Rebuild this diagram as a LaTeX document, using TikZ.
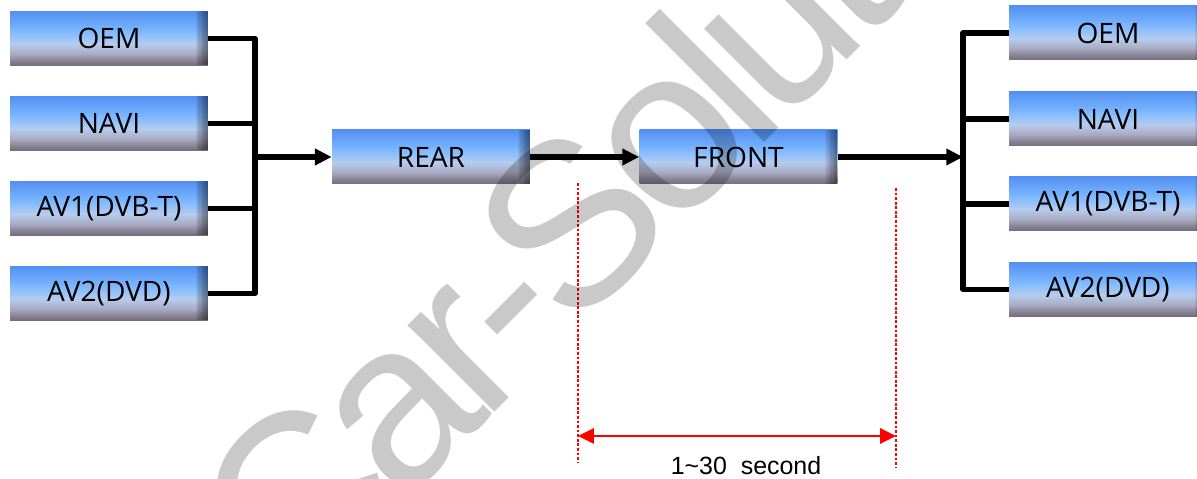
\documentclass[tikz,border=0pt]{standalone}
\usepackage{fontspec}
\setmainfont{Open Sans}
\newfontfamily\plainfont{Liberation Sans}
\newfontfamily\markfont[LetterSpace=-6]{Liberation Sans}
\usetikzlibrary{arrows.meta}

\definecolor{boxtop}{RGB}{84,144,242}
\definecolor{boxmid}{RGB}{112,172,252}
\definecolor{boxlight}{RGB}{132,188,255}
\definecolor{boxpale}{RGB}{182,204,238}
\definecolor{boxgray}{RGB}{170,172,196}
\definecolor{boxdim}{RGB}{138,134,152}
\definecolor{boxbot}{RGB}{116,108,122}
\definecolor{wmgray}{RGB}{0,0,0}

\pgfdeclareverticalshading{boxshade}{100bp}{color(0bp)=(boxbot); color(25bp)=(boxbot); color(30bp)=(boxdim); color(36bp)=(boxgray); color(45bp)=(boxpale); color(55bp)=(boxlight); color(62bp)=(boxmid); color(75bp)=(boxtop); color(100bp)=(boxtop)}

\tikzset{
  signal/.style={minimum width=3.96cm, minimum height=1.08cm, inner sep=0pt,
    shade, shading=boxshade, font=\fontsize{16}{16}\selectfont,
    path picture={\foreach \k in {1,...,10}
      \fill[black, opacity=0.055] ([xshift=-\k*0.7pt]path picture bounding box.south east) rectangle (path picture bounding box.north east);}},
  wire/.style={line width=2.9pt, line join=round},
  feed/.style={wire, -{Triangle[length=9.5pt, width=9pt]}},
  guide/.style={red, line width=0.6pt, dash pattern=on 1.6pt off 1pt},
  delayarrow/.style={red, line width=1.7pt, {Triangle[length=9pt, width=8.5pt]}-{Triangle[length=9pt, width=8.5pt]}}
}

\begin{document}
\begin{tikzpicture}[x=0.02cm, y=0.02cm]
    \path[use as bounding box, clip] (0,0) rectangle (1197,479);

    % sources
    \node[signal] (oemL) at (109,440.5) {OEM};
    \node[signal] (naviL) at (109,355.5) {NAVI};
    \node[signal] (av1L) at (109,270.5) {AV1(DVB-T)};
    \node[signal] (av2L) at (109,185.5) {AV2(DVD)};

    \node[signal] (rear) at (431,322) {REAR};
    \node[signal] (front) at (738.5,322) {FRONT};

    % outputs
    \node[signal] (oemR) at (1108,446) {OEM};
    \node[signal] (naviR) at (1108,360) {NAVI};
    \node[signal] (av1R) at (1108,275) {AV1(DVB-T)};
    \node[signal] (av2R) at (1108,189.5) {AV2(DVD)};

    \coordinate (busL) at (255,322);
    \coordinate (busR) at (963,322);

    \draw[wire] (oemL.east) -- (oemL.east -| busL) -- (av2L.east -| busL) -- (av2L.east);
    \draw[wire] (naviL.east) -- (naviL.east -| busL);
    \draw[wire] (av1L.east) -- (av1L.east -| busL);
    \draw[feed] (busL) -- (rear.west);
    \draw[feed] (rear.east) -- (front.west);
    \draw[feed] (front.east) -- (busR);

    \draw[wire] (oemR.west) -- (oemR.west -| busR) -- (av2R.west -| busR) -- (av2R.west);
    \draw[wire] (naviR.west) -- (naviR.west -| busR);
    \draw[wire] (av1R.west) -- (av1R.west -| busR);

    % switching time
    \coordinate (t0top) at (578,296);
    \coordinate (t0bot) at (578,16);
    \coordinate (t1top) at (896,291);
    \coordinate (t1bot) at (896,12);
    \draw[guide] (t0top) -- (t0bot);
    \draw[guide] (t1top) -- (t1bot);
    \draw[delayarrow] (t0top |- 0,43) -- (t1top |- 0,43);
    \node[font=\plainfont\fontsize{14.2}{14.2}\selectfont] (delay) at (746,13) {1\textasciitilde 30\ \ second};

    % watermark
    \node[rotate=45, anchor=base west, inner sep=0pt, text=wmgray, opacity=0.21,
      font=\markfont\fontsize{132}{132}\selectfont] (mark) at (293,-135) {Car-Solution};
\end{tikzpicture}
\end{document}
